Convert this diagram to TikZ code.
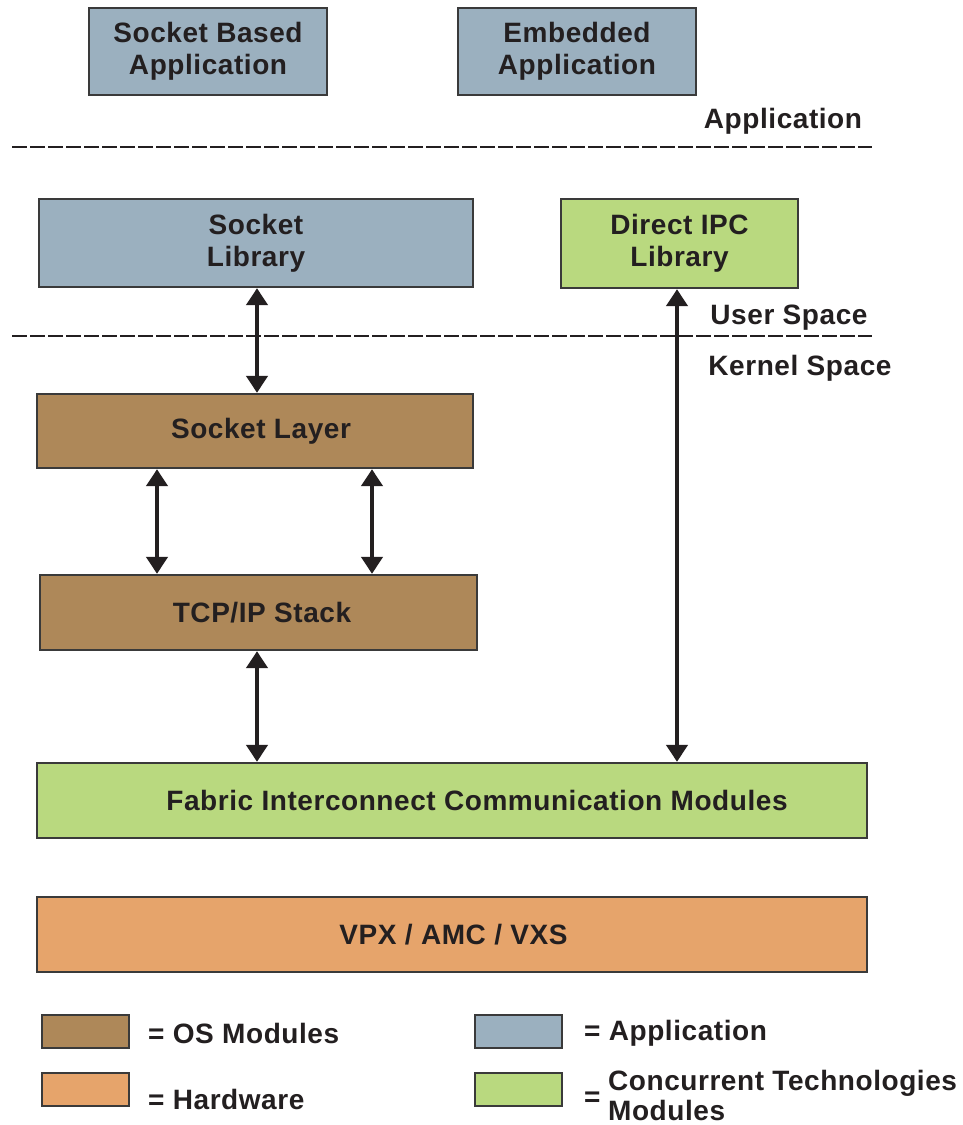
\documentclass[tikz,border=0pt]{standalone}
\usepackage{fontspec}
\setmainfont[LetterSpace=2.0]{Liberation Sans}
\usetikzlibrary{arrows.meta}
\definecolor{appblue}{HTML}{9BB0BF}
\definecolor{osbrown}{HTML}{AE8859}
\definecolor{ctgreen}{HTML}{B9D97F}
\definecolor{hworange}{HTML}{E6A46B}
\definecolor{ink}{HTML}{231F20}
\definecolor{edge}{HTML}{3A3A3A}
\begin{document}
\begin{tikzpicture}[x=1pt,y=-1pt,
  box/.style={draw=edge,line width=1.3pt,rectangle,align=center,text=ink,
    font=\fontsize{28}{32}\selectfont\bfseries,inner sep=0pt},
  lbl/.style={text=ink,font=\fontsize{28}{32}\selectfont\bfseries,inner sep=0pt},
  sep/.style={draw=ink,line width=1.1pt,dash pattern=on 15pt off 3pt},
  biarrow/.style={draw=ink,line width=4.5pt,{Triangle[length=17pt,width=21pt]}-{Triangle[length=17pt,width=21pt]},shorten <=0.5pt,shorten >=0.5pt},
  legbox/.style={draw=edge,line width=1.3pt,rectangle,minimum width=87pt,minimum height=33pt,inner sep=0pt}
]
\useasboundingbox (0,0) rectangle (963,1125);
\fill[white] (0,0) rectangle (963,1125);

% top applications
\node[box,fill=appblue,minimum width=238pt,minimum height=87pt] (sba) at (208,51.5) {Socket Based\\Application};
\node[box,fill=appblue,minimum width=238pt,minimum height=87pt] (ea) at (577,51.5) {Embedded\\Application};
\node[lbl] (lapp) at (783,121) {Application};

% separators
\coordinate (s1a) at (12,147);
\coordinate (s1b) at (872,147);
\draw[sep] (s1a) -- (s1b);
\coordinate (s2a) at (12,336);
\coordinate (s2b) at (872,336);
\draw[sep] (s2a) -- (s2b);

% libraries
\node[box,fill=appblue,minimum width=434pt,minimum height=88pt] (slib) at (256,243) {Socket\\Library};
\node[box,fill=ctgreen,minimum width=237pt,minimum height=89pt] (dipc) at (679.5,243.5) {Direct IPC\\Library};
\node[lbl] (luser) at (789,318) {User Space};
\node[lbl] (lkern) at (800,368) {Kernel Space};

% kernel
\node[box,fill=osbrown,minimum width=436pt,minimum height=74pt] (sl) at (255,431) {\hspace*{12pt}Socket Layer};
\node[box,fill=osbrown,minimum width=437pt,minimum height=75pt] (tcp) at (258.5,612.5) {\hspace*{7pt}TCP/IP Stack};
\node[box,fill=ctgreen,minimum width=830pt,minimum height=75pt] (fab) at (452,800.5) {\hspace*{50pt}Fabric Interconnect Communication Modules};
\node[box,fill=hworange,minimum width=830pt,minimum height=75pt] (vpx) at (452,934.5) {\hspace*{3pt}VPX / AMC / VXS};

% arrows
\draw[biarrow] (slib.south -| 257,0) -- (sl.north -| 257,0);
\draw[biarrow] (sl.south -| 157,0) -- (tcp.north -| 157,0);
\draw[biarrow] (sl.south -| 372,0) -- (tcp.north -| 372,0);
\draw[biarrow] (tcp.south -| 257,0) -- (fab.north -| 257,0);
\draw[biarrow] (dipc.south -| 677,0) -- (fab.north -| 677,0);

% legend
\node[legbox,fill=osbrown] (lg1) at (85.5,1031.5) {};
\node[lbl,anchor=west] (lt1) at (148,1033) {= OS Modules};
\node[legbox,fill=hworange] (lg2) at (85.5,1089.5) {};
\node[lbl,anchor=west] (lt2) at (148,1099) {= Hardware};
\node[legbox,fill=appblue] (lg3) at (518.5,1031.5) {};
\node[lbl,anchor=west] (lt3) at (584,1033) {= Application};
\node[legbox,fill=ctgreen] (lg4) at (518.5,1089.5) {};
\node[lbl,anchor=west] (lt4eq) at (584,1099) {=};
\node[lbl,anchor=west,align=left,font=\fontsize{28}{30}\selectfont\bfseries] (lt4) at (608,1095) {Concurrent Technologies\\Modules};
\end{tikzpicture}
\end{document}
